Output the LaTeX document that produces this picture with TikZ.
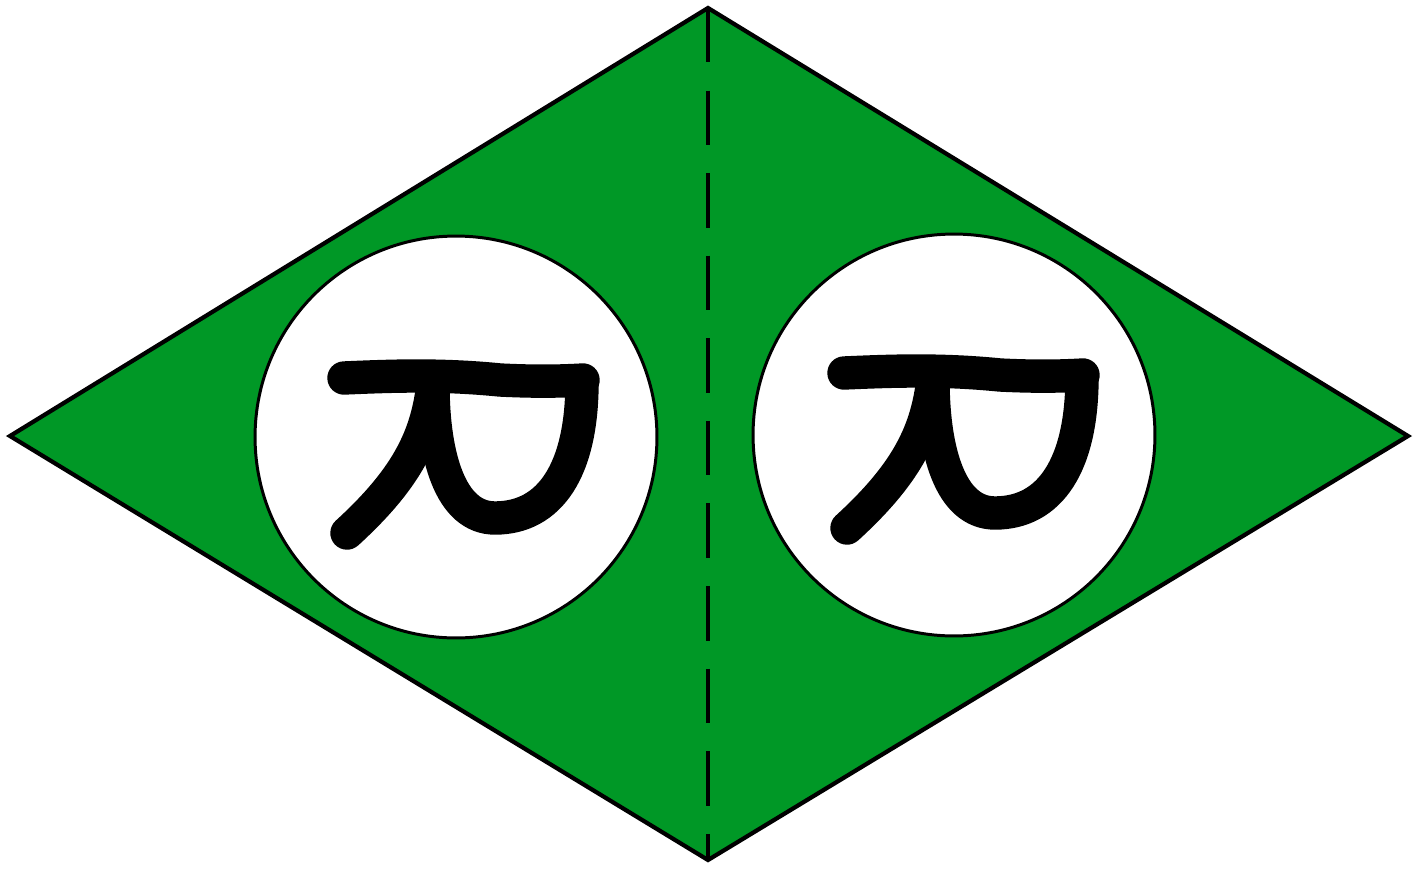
\documentclass[tikz,border=0pt]{standalone}
\definecolor{kitegreen}{RGB}{0,152,38}
\tikzset{
  kite/.style={fill=kitegreen, draw=black, line width=2.4pt, line join=miter},
  fold/.style={draw=black, line width=2.6pt, dash pattern=on 31pt off 16pt},
  eye/.style={fill=white, draw=black, line width=1.7pt},
  glyph/.style={draw=black, line width=19pt, line cap=round, line join=round},
}
\begin{document}
\begin{tikzpicture}[x=0.02cm, y=-0.02cm]
\useasboundingbox (0,0) rectangle (1426,869);
\coordinate (T) at (708,8);
\coordinate (L) at (10,436);
\coordinate (R) at (1408,436);
\coordinate (B) at (708,860);
\path[kite] (T) -- (R) -- (B) -- (L) -- cycle;
\draw[fold] (T) -- (B);
\coordinate (c1) at (456,437);
\coordinate (c2) at (954,435);
\path[eye] (c1) circle [radius=4.02cm];
\path[eye] (c2) circle [radius=4.02cm];
\foreach \dx/\dy in {0/0, 500/-5}{
  \begin{scope}[shift={(\dx,\dy)}]
    \draw[glyph] (344,378) .. controls (390,376) and (440,374) .. (500,380) .. controls (540,382) and (565,381) .. (583,380);
    \draw[glyph] (433,385) .. controls (433,455) and (450,518) .. (495,518) .. controls (550,518) and (582,470) .. (582,382);
    \draw[glyph] (432,392) .. controls (425,440) and (405,480) .. (347,533);
  \end{scope}
}
\end{tikzpicture}
\end{document}
